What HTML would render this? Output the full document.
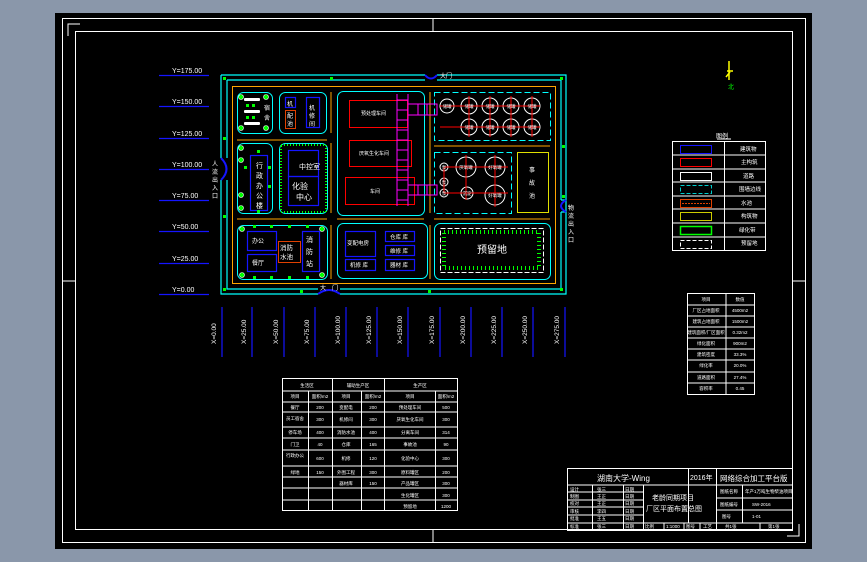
<!DOCTYPE html>
<html><head><meta charset="utf-8"><style>
html,body{margin:0;padding:0;background:#8a97aa;}
svg{display:block;font-family:"Liberation Sans","Noto Sans CJK SC",sans-serif;}
</style></head><body>
<svg width="867" height="562" viewBox="0 0 867 562" xmlns="http://www.w3.org/2000/svg">
<rect x="0" y="0" width="867" height="562" fill="#8a97aa"/>
<rect x="55" y="13" width="757" height="536" fill="#000"/>
<g fill="none" stroke="#fff" stroke-width="1">
<rect x="62.5" y="18.5" width="743" height="524"/>
<rect x="75.5" y="31.5" width="717" height="498"/>
<path d="M68 36V24H80M433 18V31M433 530V543M62 281H75M793 281H806M799 524V536H787"/>
</g>
<g font-size="7" fill="#fff">
<text x="172" y="73">Y=175.00</text><text x="172" y="104">Y=150.00</text><text x="172" y="136">Y=125.00</text><text x="172" y="167">Y=100.00</text><text x="172" y="198">Y=75.00</text><text x="172" y="229">Y=50.00</text><text x="172" y="261">Y=25.00</text><text x="172" y="292">Y=0.00</text>
</g>
<g stroke="#1515ff" stroke-width="1.2">
<path d="M159 75.5H209M159 106.5H209M159 138.5H209M159 169.5H209M159 200.5H209M159 231.5H209M159 263.5H209M159 294.5H209"/>
<path d="M222 307V357M252 307V357M284 307V357M315 307V357M346 307V357M377 307V357M408 307V357M440 307V357M471 307V357M502 307V357M533 307V357M565 307V357"/>
</g>
<g font-size="6.5" fill="#fff">
<text transform="translate(216,344) rotate(-90)">X=0.00</text>
<text transform="translate(246,344) rotate(-90)">X=25.00</text>
<text transform="translate(278,344) rotate(-90)">X=50.00</text>
<text transform="translate(309,344) rotate(-90)">X=75.00</text>
<text transform="translate(340,344) rotate(-90)">X=100.00</text>
<text transform="translate(371,344) rotate(-90)">X=125.00</text>
<text transform="translate(402,344) rotate(-90)">X=150.00</text>
<text transform="translate(434,344) rotate(-90)">X=175.00</text>
<text transform="translate(465,344) rotate(-90)">X=200.00</text>
<text transform="translate(496,344) rotate(-90)">X=225.00</text>
<text transform="translate(527,344) rotate(-90)">X=250.00</text>
<text transform="translate(559,344) rotate(-90)">X=275.00</text>
</g>
<g fill="none" stroke="#00ffff" stroke-width="1.2">
<path d="M221 75H425M437 75H566V294H340M318 294H221V180M221 158V75"/>
<path d="M227 80H425M437 80H561V200M561 212V289H340M318 289H227V180M227 158V80"/>
<path d="M561 200H566M561 212H566"/>
</g>
<rect x="232.5" y="86.5" width="323" height="197" fill="none" stroke="#ffa500" stroke-width="1"/>
<g stroke="#ffa500" stroke-width="1">
<path d="M237 140H327M237 219H327M337 219H424M434 219H550M434 146H550M331 92V133M331 143V213M331 225V279M430 92V213M430 225V279"/>
</g>
<g stroke="#1515ff" stroke-width="2" fill="none">
<path d="M425 75Q431 82 437 75"/><path d="M318 294Q329 286 340 294"/><path d="M221 158Q232 169 221 180"/><path d="M566 200Q556 206 566 212"/>
</g>
<g font-size="6" fill="#fff">
<text x="440" y="78">大门</text><text x="332" y="290">门</text><text x="320" y="290">大</text>
<text x="212" y="166">人</text><text x="212" y="174">流</text><text x="212" y="182">出</text><text x="212" y="190">入</text><text x="212" y="198">口</text>
<text x="568" y="210">物</text><text x="568" y="218">流</text><text x="568" y="226">出</text><text x="568" y="234">入</text><text x="568" y="242">口</text>
</g>
<g fill="#00ff00">
<rect x="223" y="77" width="3" height="3"/><rect x="330" y="77" width="3" height="3"/><rect x="560" y="77" width="3" height="3"/><rect x="223" y="137" width="3" height="3"/><rect x="223" y="215" width="3" height="3"/><rect x="223" y="288" width="3" height="3"/><rect x="300" y="290" width="3" height="3"/><rect x="428" y="290" width="3" height="3"/><rect x="560" y="288" width="3" height="3"/><rect x="562" y="145" width="3" height="3"/><rect x="562" y="195" width="3" height="3"/>
</g>
<g fill="none" stroke="#00ffff" stroke-width="1">
<rect x="237.5" y="92.5" width="35" height="41" rx="6"/>
<rect x="279.5" y="92.5" width="47" height="41" rx="6"/>
<rect x="237.5" y="143.5" width="35" height="70" rx="6"/>
<rect x="279.5" y="143.5" width="48" height="70" rx="6"/>
<rect x="237.5" y="225.5" width="90" height="54" rx="6"/>
<rect x="337.5" y="91.5" width="87" height="124" rx="6"/>
<rect x="337.5" y="223.5" width="90" height="55" rx="6"/>
<rect x="434.5" y="223.5" width="116" height="56" rx="6"/>
<rect x="434.5" y="92.5" width="116" height="48" stroke-dasharray="6,3"/>
<rect x="434.5" y="152.5" width="77" height="61" stroke-dasharray="6,3"/>
</g>
<rect x="281" y="145" width="45" height="67" fill="none" stroke="#00ff00" stroke-width="2" stroke-dasharray="1,2"/>
<rect x="440.5" y="228.5" width="103" height="44" fill="none" stroke="#fff" stroke-dasharray="5,2"/>
<rect x="444" y="232" width="95" height="36" fill="none" stroke="#00ff00" stroke-width="4" stroke-dasharray="1,3"/>
<rect x="517.5" y="152.5" width="31" height="60" fill="none" stroke="#e0e000"/>
<g fill="none" stroke="#1515ff" stroke-width="1.2">
<rect x="288.5" y="150.5" width="30" height="26"/><rect x="288.5" y="176.5" width="30" height="29"/>
<rect x="250.5" y="155.5" width="17" height="55"/>
<rect x="285.5" y="97.5" width="10" height="10"/><rect x="306.5" y="97.5" width="13" height="30"/>
<rect x="247.5" y="231.5" width="29" height="19"/><rect x="247.5" y="254.5" width="29" height="17"/><rect x="302.5" y="231.5" width="17" height="40"/>
<rect x="345.5" y="231.5" width="30" height="25"/><rect x="385.5" y="231.5" width="29" height="10"/><rect x="385.5" y="245.5" width="29" height="10"/><rect x="345.5" y="259.5" width="30" height="11"/><rect x="385.5" y="259.5" width="29" height="11"/>
</g>
<rect x="285.5" y="110.5" width="10" height="18" fill="none" stroke="#e04000"/>
<rect x="278.5" y="241.5" width="22" height="21" fill="none" stroke="#e04000"/>
<g fill="none" stroke="#ff0000" stroke-width="1">
<rect x="349.5" y="100.5" width="58" height="27"/><rect x="349.5" y="140.5" width="62" height="26"/><rect x="345.5" y="177.5" width="69" height="27"/>
</g>
<g fill="none" stroke="#ff00ff" stroke-width="1">
<path d="M397 94V206M408 94V206M397 100H408M397 110H408M397 120H408M397 130H408M397 140H408M397 150H408M397 160H408M397 170H408M397 180H408M397 190H408M397 200H408"/>
<path d="M408 104H437V115H408M418 104V115M427 104V115M408 185H437V195H408M418 185V195M427 185V195"/>
</g>
<g fill="none" stroke="#fff" stroke-width="1">
<circle cx="447" cy="106" r="7"/><circle cx="469" cy="106" r="8"/><circle cx="490" cy="106" r="8"/><circle cx="511" cy="106" r="8"/><circle cx="532" cy="106" r="8"/>
<circle cx="469" cy="127" r="8"/><circle cx="490" cy="127" r="8"/><circle cx="511" cy="127" r="8"/><circle cx="532" cy="127" r="8"/>
<circle cx="466" cy="167" r="10"/><circle cx="495" cy="167" r="10"/><circle cx="495" cy="195" r="10"/><circle cx="467" cy="193" r="6"/>
<circle cx="444" cy="167" r="4"/><circle cx="444" cy="182" r="4"/><circle cx="444" cy="193" r="4"/>
</g>
<g stroke="#ff0000" stroke-width="1">
<path d="M440 106H540M469 96V137M490 96V137M511 96V137M532 96V137M440 127H540"/>
<path d="M444 167H508M466 155V200M495 155V207M444 193H508M444 167V193"/>
</g>
<g fill="#00ff00" stroke="#fff" stroke-width=".6">
<circle cx="241" cy="97" r="2.5"/><circle cx="266" cy="97" r="2.5"/><circle cx="241" cy="128" r="2.5"/><circle cx="266" cy="128" r="2.5"/>
<circle cx="241" cy="148" r="2.5"/><circle cx="241" cy="208" r="2.5"/><circle cx="241" cy="160" r="2.5"/><circle cx="241" cy="195" r="2.5"/>
<circle cx="242" cy="229" r="2.5"/><circle cx="322" cy="229" r="2.5"/><circle cx="242" cy="275" r="2.5"/><circle cx="322" cy="275" r="2.5"/>
</g>
<g fill="#fff">
<rect x="244" y="98" width="16" height="3" rx="1"/><rect x="244" y="110" width="16" height="3" rx="1"/><rect x="244" y="122" width="16" height="3" rx="1"/>
</g>
<g fill="#00ff00">
<rect x="246" y="104" width="3" height="3"/><rect x="252" y="104" width="3" height="3"/><rect x="246" y="116" width="3" height="3"/><rect x="252" y="116" width="3" height="3"/>
<rect x="253" y="225" width="3" height="3"/><rect x="270" y="225" width="3" height="3"/><rect x="288" y="225" width="3" height="3"/><rect x="306" y="225" width="3" height="3"/><rect x="253" y="276" width="3" height="3"/><rect x="270" y="276" width="3" height="3"/><rect x="288" y="276" width="3" height="3"/><rect x="306" y="276" width="3" height="3"/>
<rect x="244" y="166" width="3" height="3"/><rect x="268" y="166" width="3" height="3"/><rect x="268" y="185" width="3" height="3"/><rect x="257" y="150" width="3" height="3"/><rect x="257" y="210" width="3" height="3"/>
</g>
<g font-size="7" fill="#fff">
<text x="299" y="169">中控室</text><text x="292" y="189" font-size="8">化验</text><text x="296" y="200" font-size="8">中心</text>
<text x="256" y="168">行</text><text x="256" y="178">政</text><text x="256" y="188">办</text><text x="256" y="198">公</text><text x="256" y="208">楼</text>
<text x="264" y="110" font-size="6">宿</text><text x="264" y="120" font-size="6">舍</text>
<text x="287" y="106" font-size="6">机</text><text x="287" y="118" font-size="6">配</text><text x="287" y="126" font-size="6">池</text>
<text x="309" y="110" font-size="6">机</text><text x="309" y="118" font-size="6">修</text><text x="309" y="126" font-size="6">间</text>
<text x="252" y="243" font-size="6">办公</text><text x="252" y="265" font-size="6">餐厅</text>
<text x="280" y="250" font-size="6.5">消防</text><text x="280" y="259" font-size="6.5">水池</text>
<text x="306" y="242">消</text><text x="306" y="254">防</text><text x="306" y="266">站</text>
<text x="347" y="245" font-size="5.5">变配电房</text><text x="390" y="239" font-size="5.5">仓库 库</text><text x="390" y="253" font-size="5.5">维修 库</text><text x="350" y="267" font-size="5.5">机修 库</text><text x="390" y="267" font-size="5.5">器材 库</text>
<text x="477" y="253" font-size="10">预留地</text>
<text x="529" y="172" font-size="6">事</text><text x="529" y="185" font-size="6">故</text><text x="529" y="198" font-size="6">池</text>
<text x="361" y="115" font-size="5">预处理车间</text><text x="359" y="155" font-size="5">厌氧生化车间</text><text x="370" y="193" font-size="5">车间</text>
</g>
<g font-size="4.5" fill="#fff" text-anchor="middle">
<text x="447" y="108">储罐</text><text x="469" y="108">储罐</text><text x="490" y="108">储罐</text><text x="511" y="108">储罐</text><text x="532" y="108">储罐</text>
<text x="469" y="129">储罐</text><text x="490" y="129">储罐</text><text x="511" y="129">储罐</text><text x="532" y="129">储罐</text>
<text x="466" y="169">厌氧罐</text><text x="495" y="169">好氧罐</text><text x="495" y="197">好氧罐</text><text x="467" y="195">沉淀</text>
<text x="444" y="169">泵</text><text x="444" y="184">泵</text><text x="444" y="195">泵</text>
</g>
<g stroke="#ffff00" stroke-width="1.5" fill="none"><path d="M729 61V80M727 71H733M726 77L730 72"/></g>
<text x="728" y="89" font-size="6" fill="#00ff00">北</text>
<text x="716" y="138" font-size="6" fill="#fff">图例</text>
<path d="M717 139H731" stroke="#fff"/>
<g fill="none" stroke="#fff" stroke-width="1">
<rect x="672.5" y="141.5" width="93" height="109"/>
<path d="M724.5 141V250M672 155H765M672 169H765M672 182H765M672 196H765M672 209H765M672 223H765M672 237H765"/>
</g>
<rect x="680.5" y="145.5" width="31" height="8" fill="none" stroke="#1515ff"/>
<rect x="680.5" y="158.5" width="31" height="8" fill="none" stroke="#ff0000"/>
<rect x="680.5" y="172.5" width="31" height="8" fill="none" stroke="#fff"/>
<rect x="680.5" y="185.5" width="31" height="8" fill="none" stroke="#00cccc" stroke-dasharray="4,2"/>
<rect x="680.5" y="199.5" width="31" height="8" fill="none" stroke="#e04000"/><path d="M682 203.5H710" stroke="#e04000" stroke-dasharray="2,1"/>
<rect x="680.5" y="212.5" width="31" height="8" fill="none" stroke="#cccc00"/>
<rect x="680.5" y="226.5" width="31" height="8" fill="none" stroke="#00ff00" stroke-width="1.5"/>
<rect x="680.5" y="240.5" width="31" height="8" fill="none" stroke="#fff" stroke-dasharray="4,2"/>
<g font-size="5.5" fill="#fff">
<text x="740" y="151">建筑物</text><text x="741" y="164">主构筑</text><text x="743" y="178">道路</text><text x="739" y="191">围墙边线</text><text x="741" y="205">水池</text><text x="741" y="218">构筑物</text><text x="739" y="232">绿化带</text><text x="741" y="245">预留地</text>
</g>
<g fill="none" stroke="#fff">
<rect x="687.5" y="293.5" width="67" height="101"/>
<path d="M726 293V394M687 305H754M687 316H754M687 327H754M687 338H754M687 349H754M687 360H754M687 372H754M687 383H754"/>
</g>
<g font-size="4.5" fill="#fff" text-anchor="middle">
<text x="706" y="301">项目</text><text x="740" y="301">数值</text>
<text x="706" y="312">厂区占地面积</text><text x="740" y="312">4500m2</text>
<text x="706" y="323">建筑占地面积</text><text x="740" y="323">1500m2</text>
<text x="706" y="334">建筑面积/厂区面积</text><text x="740" y="334">0.32m2</text>
<text x="706" y="345">绿化面积</text><text x="740" y="345">900m2</text>
<text x="706" y="356">建筑密度</text><text x="740" y="356">33.3%</text>
<text x="706" y="367">绿化率</text><text x="740" y="367">20.0%</text>
<text x="706" y="379">道路面积</text><text x="740" y="379">27.4%</text>
<text x="706" y="390">容积率</text><text x="740" y="390">0.45</text>
</g>
<g fill="none" stroke="#fff">
<rect x="282.5" y="378.5" width="175" height="132"/>
<path d="M282 391H457M282 402H457M282 412H457M282 427H457M282 438H457M282 450H457M282 466H457M282 477H457M282 488H457M282 500H457"/>
<path d="M332.5 378V510M384.5 378V510M308.5 391V510M361.5 391V510M435.5 391V510"/>
</g>
<g font-size="4.5" fill="#fff" text-anchor="middle">
<text x="307" y="387">生活区</text><text x="358" y="387">辅助生产区</text><text x="420" y="387">生产区</text>
<text x="295" y="398">项目</text><text x="320" y="398">面积/m2</text><text x="346" y="398">项目</text><text x="373" y="398">面积/m2</text><text x="410" y="398">项目</text><text x="446" y="398">面积/m2</text>
<text x="295" y="409">餐厅</text><text x="320" y="409">200</text><text x="346" y="409">变配电</text><text x="373" y="409">200</text><text x="410" y="409">预处理车间</text><text x="446" y="409">500</text>
<text x="295" y="420">员工宿舍</text><text x="320" y="421">300</text><text x="346" y="421">机修间</text><text x="373" y="421">300</text><text x="410" y="421">厌氧生化车间</text><text x="446" y="421">300</text>
<text x="295" y="434">停车场</text><text x="320" y="434">400</text><text x="346" y="434">消防水池</text><text x="373" y="434">400</text><text x="410" y="434">分离车间</text><text x="446" y="434">314</text>
<text x="295" y="446">门卫</text><text x="320" y="446">40</text><text x="346" y="446">仓库</text><text x="373" y="446">165</text><text x="410" y="446">事故池</text><text x="446" y="446">90</text>
<text x="295" y="457">行政办公</text><text x="320" y="460">600</text><text x="346" y="460">机修</text><text x="373" y="460">120</text><text x="410" y="460">化验中心</text><text x="446" y="460">300</text>
<text x="295" y="474">绿地</text><text x="320" y="474">150</text><text x="346" y="474">外围工程</text><text x="373" y="474">300</text><text x="410" y="474">原料罐区</text><text x="446" y="474">200</text>
<text x="346" y="485">器材库</text><text x="373" y="485">150</text><text x="410" y="485">产品罐区</text><text x="446" y="485">300</text>
<text x="410" y="497">生化罐区</text><text x="446" y="497">300</text>
<text x="410" y="508">预留地</text><text x="446" y="508">1200</text>
</g>
<g fill="none" stroke="#fff">
<rect x="567.5" y="468.5" width="225" height="62"/>
<path d="M567 485H792M688.5 468V523M716.5 468V530M567 523H792"/>
<path d="M592.5 485V530M623.5 485V530M643.5 485V530M567 492H643M567 500H643M567 507H643M567 515H643"/>
<path d="M742.5 485V523M716 498H792M716 510H792M664 523V530M684 523V530M700 523V530M760 523V530"/>
</g>
<g font-size="8" fill="#fff">
<text x="597" y="481">湖南大学-Wing</text><text x="690" y="480" font-size="7">2016年</text><text x="720" y="481" font-size="7.5">网络综合加工平台版</text>
<text x="652" y="500" font-size="7">老龄同期项目</text><text x="646" y="511" font-size="7">厂区平面布置总图</text>
</g>
<g font-size="4.5" fill="#fff">
<text x="570" y="491">设计</text><text x="597" y="491">张三</text><text x="625" y="491">日期</text>
<text x="570" y="498">制图</text><text x="597" y="498">王正</text><text x="625" y="498">日期</text>
<text x="570" y="505">校对</text><text x="597" y="505">王正</text><text x="625" y="505">日期</text>
<text x="570" y="513">审核</text><text x="597" y="513">李四</text><text x="625" y="513">日期</text>
<text x="570" y="520">批准</text><text x="597" y="520">王五</text><text x="625" y="520">日期</text>
<text x="570" y="528">标准</text><text x="597" y="528">张三</text><text x="625" y="528">日期</text>
<text x="645" y="528">比例</text><text x="666" y="528">1:1000</text><text x="686" y="528">图号</text><text x="703" y="528">工艺</text>
<text x="720" y="493">图纸名称</text><text x="745" y="493">年产1万吨生物柴油项目</text>
<text x="720" y="506">图纸编号</text><text x="752" y="506">SW-2016</text>
<text x="722" y="518">图号</text><text x="752" y="518">1-01</text>
<text x="725" y="528">共1张</text><text x="768" y="528">第1张</text>
</g>
</svg>
</body></html>
